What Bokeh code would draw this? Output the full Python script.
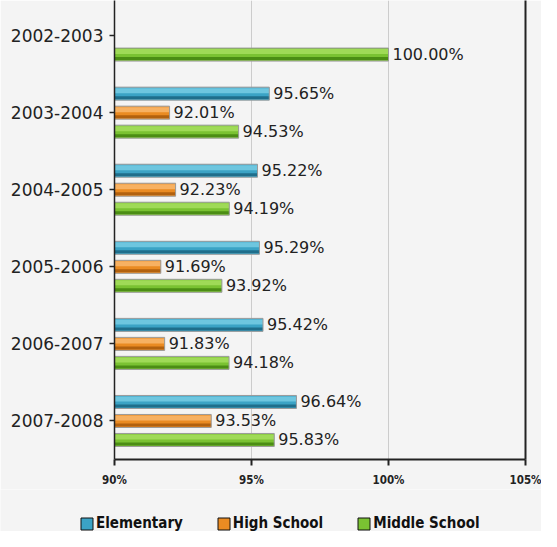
from bokeh.plotting import figure
from bokeh.layouts import column
from bokeh.models import (ColumnDataSource, Range1d, FixedTicker, LinearAxis,
                          Legend, LegendItem, PrintfTickFormatter)
from bokeh.transform import dodge
from bokeh.core.properties import value
from bokeh.embed import file_html
from bokeh.resources import INLINE

# ---- data ----
categories = ["2002-2003", "2003-2004", "2004-2005", "2005-2006", "2006-2007", "2007-2008"]
elementary = [None, 95.65, 95.22, 95.29, 95.42, 96.64]
high_school = [None, 92.01, 92.23, 91.69, 91.83, 93.53]
middle_school = [100.00, 94.53, 94.19, 93.92, 94.18, 95.83]
series_names = ["Elementary", "High School", "Middle School"]
x_ticks = [90, 95, 100, 105]

# ---- styles ----
BG = "#f4f4f4"
palette = {
    "Elementary": ("#6ec6df", "#3ba3c5", "#1f6e8b"),
    "High School": ("#f7b162", "#ea8b22", "#b2610e"),
    "Middle School": ("#9fda57", "#7ac232", "#4b8d14"),
}
frame_h = 459.0
y_start, y_end = len(categories) - 0.5, -0.455
ppu = frame_h / (y_start - y_end)  # pixels per category unit
offsets_px = {"Elementary": -19, "High School": 0, "Middle School": 19}
bar_px = 13

p = figure(width=541, height=489, output_backend="svg", toolbar_location=None,
           x_range=Range1d(90, 105), y_range=Range1d(y_start, y_end),
           min_border_left=114, min_border_right=16, min_border_top=0,
           min_border_bottom=30)
p.background_fill_color = BG
p.border_fill_color = BG
p.outline_line_color = None

p.ygrid.grid_line_color = None
p.xgrid.ticker = FixedTicker(ticks=x_ticks)
p.xgrid.grid_line_color = "#cccccc"
p.xgrid.grid_line_width = 1

# x axis
xa = p.xaxis[0]
xa.ticker = FixedTicker(ticks=x_ticks)
xa.formatter = PrintfTickFormatter(format="%d%%")
xa.axis_line_color = "#222222"
xa.axis_line_width = 2
xa.major_tick_line_color = "#222222"
xa.major_tick_line_width = 2
xa.major_tick_in = 0
xa.major_tick_out = 6
xa.minor_tick_line_color = None
xa.major_label_standoff = 7
xa.major_label_text_font = "DejaVu Sans Condensed"
xa.major_label_text_font_style = "bold"
xa.major_label_text_font_size = "11.5px"
xa.major_label_text_color = "#222222"

# y axis
ya = p.yaxis[0]
ya.ticker = FixedTicker(ticks=list(range(len(categories))))
ya.major_label_overrides = {i: c for i, c in enumerate(categories)}
ya.axis_line_color = "#222222"
ya.axis_line_width = 1.5
ya.major_tick_line_color = "#222222"
ya.major_tick_line_width = 1.5
ya.major_tick_in = 0
ya.major_tick_out = 5
ya.minor_tick_line_color = None
ya.major_label_standoff = 6
ya.major_label_text_font = "DejaVu Sans"
ya.major_label_text_font_size = "17px"
ya.major_label_text_color = "#222222"

# right border line
ra = LinearAxis(ticker=FixedTicker(ticks=[]), axis_line_color="#222222",
                axis_line_width=2, major_label_text_font_size="0px",
                major_tick_line_color=None, minor_tick_line_color=None)
p.add_layout(ra, "right")

series_values = {"Elementary": elementary, "High School": high_school,
                 "Middle School": middle_school}

# legend strip (separate figure below the chart)
lf = figure(width=541, height=42, output_backend="svg", toolbar_location=None,
            x_range=Range1d(0, 1), y_range=Range1d(0, 1),
            x_axis_type=None, y_axis_type=None,
            min_border_left=0, min_border_right=0, min_border_top=0,
            min_border_bottom=0)
lf.frame_align = False
lf.background_fill_color = BG
lf.border_fill_color = BG
lf.outline_line_color = None
lf.xgrid.visible = False
lf.ygrid.visible = False

legend_items = []
for name in series_names:
    vals = series_values[name]
    ys = [i for i, v in enumerate(vals) if v is not None]
    xs = [v for v in vals if v is not None]
    src = ColumnDataSource(dict(y=ys, x=xs, base=[90] * len(xs),
                                label=[f"{v:.2f}%" for v in xs]))
    light, mid, dark = palette[name]
    off = offsets_px[name] / ppu
    h = bar_px / ppu
    p.hbar(y=dodge("y", off, range=p.y_range), left="base", right="x", height=h,
           source=src, fill_color=mid, line_color=None)
    p.hbar(y=dodge("y", off - 3.0 / ppu, range=p.y_range), left="base", right="x",
           height=5 / ppu, source=src, fill_color=light, line_color=None)
    p.hbar(y=dodge("y", off + 4.0 / ppu, range=p.y_range), left="base", right="x",
           height=3 / ppu, source=src, fill_color=dark, line_color=None)
    p.hbar(y=dodge("y", off, range=p.y_range), left="base", right="x", height=h,
           source=src, fill_color=None, line_color="#9a9a9a", line_width=1)
    p.text(x="x", y=dodge("y", off, range=p.y_range), text="label", source=src,
           x_offset=4, text_baseline="middle", text_align="left",
           text_font=value("DejaVu Sans"), text_font_size="16px",
           text_color="#222222")
    # legend proxy (one off-range swatch so the legend has a glyph to draw)
    proxy = lf.quad(left=[-3], right=[-2], top=[-2], bottom=[-3], fill_color=mid,
                    line_color="#111111", line_width=1)
    legend_items.append(LegendItem(label=name, renderers=[proxy]))

legend = Legend(items=legend_items, orientation="horizontal",
                location=(79, -1), padding=0, margin=0, spacing=33,
                glyph_width=15, glyph_height=15, label_standoff=2,
                label_text_font="DejaVu Sans Condensed", label_text_font_style="bold",
                label_text_font_size="15px", label_text_color="#111111",
                border_line_color=None, background_fill_alpha=0)
lf.add_layout(legend, "center")

layout = column(p, lf, spacing=0)
open("out.html", "w").write(file_html(layout, INLINE))
